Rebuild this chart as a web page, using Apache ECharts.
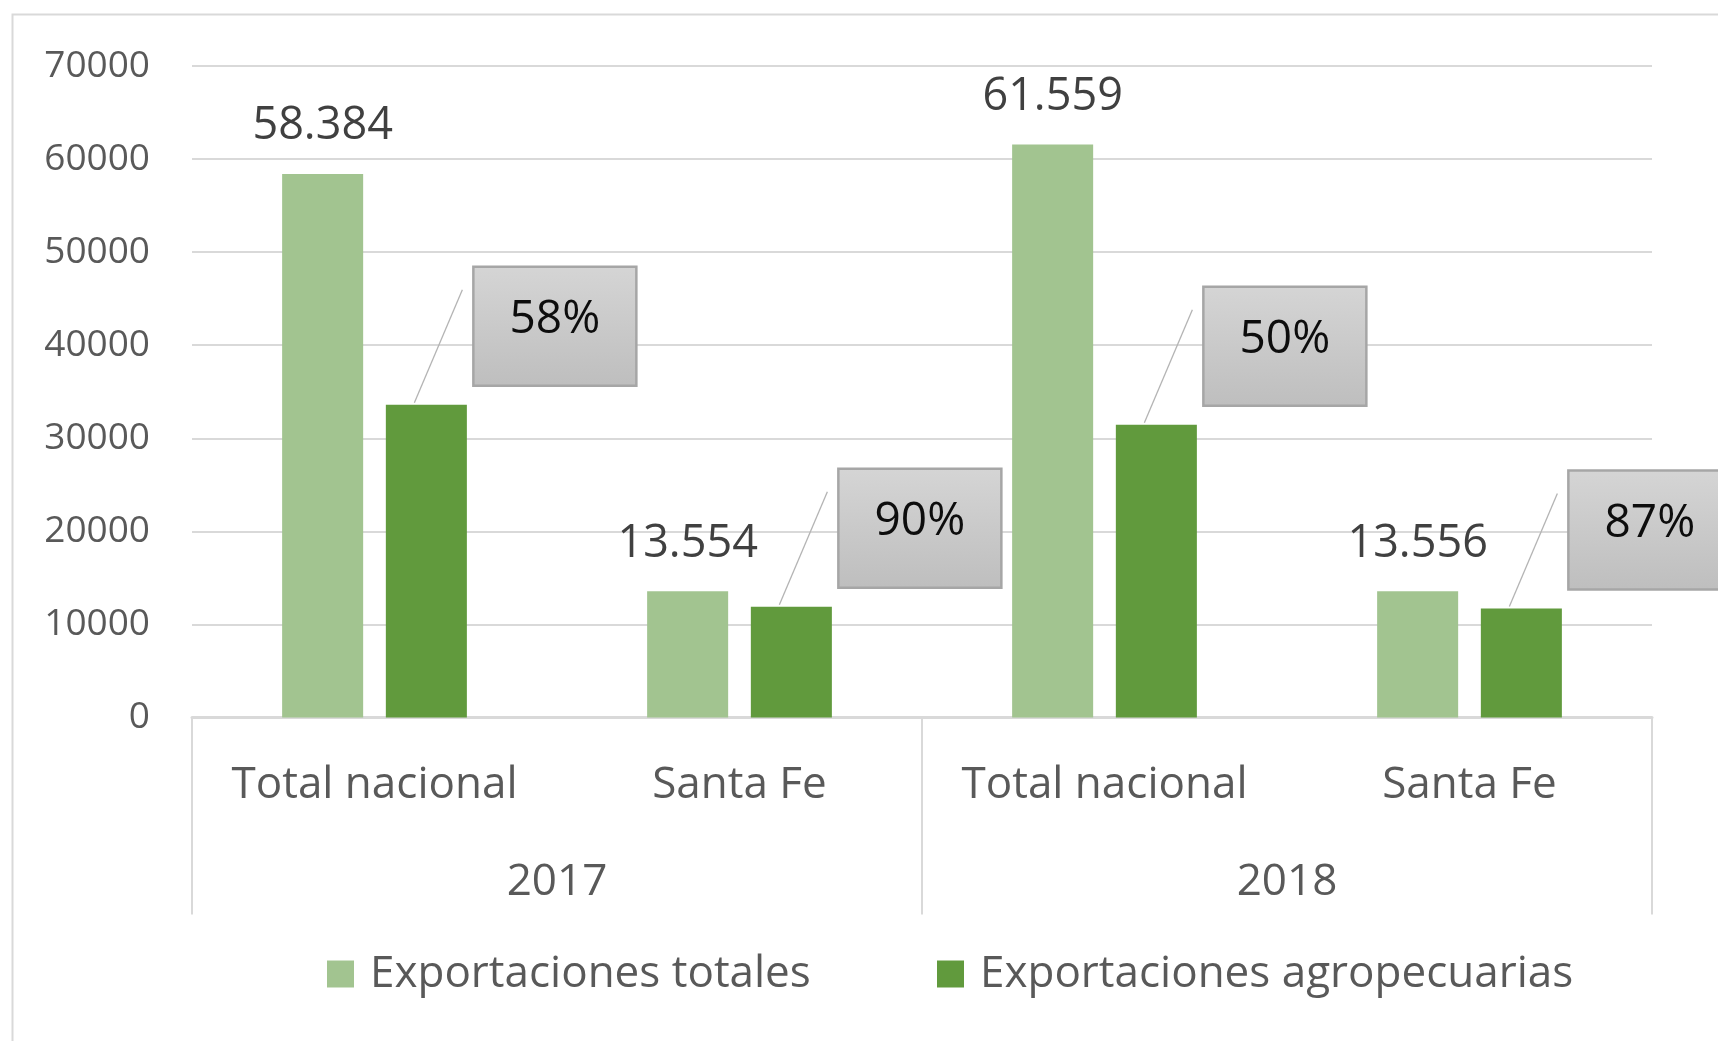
<!DOCTYPE html>
<html>
<head>
<meta charset="utf-8">
<script src="https://cdn.jsdelivr.net/npm/echarts@6/dist/echarts.min.js"></script>
<style>
html,body{margin:0;padding:0;background:#fff;}
#chart{width:1718px;height:1041px;}
</style>
</head>
<body>
<div id="chart"></div>
<script>
// ---- data ----
const categories = ['Total nacional', 'Santa Fe', 'Total nacional', 'Santa Fe'];
const years = ['2017', '2018'];
const seriesNames = ['Exportaciones totales', 'Exportaciones agropecuarias'];
const totalExports = [58384, 13554, 61559, 13556];
const agroExports = [33600, 11900, 31450, 11700];
const agroShareLabels = ['58%', '90%', '50%', '87%'];

// ---- style ----
const FONT = 'Open Sans';
const LIGHT = '#A2C490';
const DARK = '#619A3D';
const BAR_W = 0.222;
const BAR_GAP = 0.28;

function fmtThousands(v) {
  return String(v).replace(/\B(?=(\d{3})+(?!\d))/g, '.');
}

const chart = echarts.init(document.getElementById('chart'), null, {renderer: 'canvas'});

const calloutData = agroExports.map((v, i) => [i, v, agroShareLabels[i]]);

const legendText = {fontFamily: FONT, fontSize: 44, color: '#595959', padding: [0, 0, 0, 11]};

const option = {
  backgroundColor: '#fff',
  animation: false,
  textStyle: {fontFamily: FONT},
  graphic: [{
    type: 'rect', left: 10, top: 12, z: -10,
    shape: {width: 1800, height: 1100},
    style: {fill: 'none', stroke: '#D9D9D9', lineWidth: 2}
  }],
  grid: {left: 192, right: 66, top: 66, bottom: 323.5, containLabel: false},
  legend: [
    {data: [seriesNames[0]], left: 327, top: 952, padding: 0, itemWidth: 27, itemHeight: 27, icon: 'rect',
     selectedMode: false, textStyle: legendText},
    {data: [seriesNames[1]], left: 937, top: 952, padding: 0, itemWidth: 27, itemHeight: 27, icon: 'rect',
     selectedMode: false, textStyle: legendText}
  ],
  xAxis: [
    {
      type: 'category', data: categories, position: 'bottom', gridIndex: 0,
      axisLine: {show: true, lineStyle: {color: '#D9D9D9', width: 3}},
      axisTick: {show: false},
      axisLabel: {fontFamily: FONT, fontSize: 44, color: '#595959', margin: 46, interval: 0},
      splitLine: {show: false}
    },
    {
      type: 'category', data: years, position: 'bottom', gridIndex: 0,
      axisLine: {show: false},
      axisTick: {show: true, length: 197, interval: 0, lineStyle: {color: '#D9D9D9', width: 2}},
      axisLabel: {fontFamily: FONT, fontSize: 44, color: '#595959', margin: 143, interval: 0},
      splitLine: {show: false}
    }
  ],
  yAxis: {
    type: 'value', min: 0, max: 70000, interval: 10000,
    axisLine: {show: false}, axisTick: {show: false},
    axisLabel: {fontFamily: FONT, fontSize: 37, color: '#595959', margin: 42, formatter: v => String(v)},
    splitLine: {show: true, lineStyle: {color: '#D9D9D9', width: 2}}
  },
  series: [
    {
      name: seriesNames[0], type: 'bar', xAxisIndex: 0, data: totalExports,
      barWidth: (BAR_W * 100) + '%', barGap: (BAR_GAP * 100) + '%',
      itemStyle: {color: LIGHT},
      label: {show: true, position: 'top', distance: 25, fontFamily: FONT, fontSize: 45, color: '#404040',
              formatter: p => fmtThousands(p.value)}
    },
    {
      name: seriesNames[1], type: 'bar', xAxisIndex: 0, data: agroExports,
      barWidth: (BAR_W * 100) + '%', barGap: (BAR_GAP * 100) + '%',
      itemStyle: {color: DARK}
    },
    {
      name: 'callouts', type: 'custom', xAxisIndex: 0, yAxisIndex: 0, z: 5, clip: false,
      data: calloutData,
      encode: {x: 0, y: 1},
      renderItem: function (params, api) {
        const pt = api.coord([api.value(0), api.value(1)]);
        const band = api.size([1, 0])[0];
        const bw = band * BAR_W;
        const gap = bw * BAR_GAP;
        const cx = pt[0] + (bw + gap) / 2;
        const ty = pt[1];
        const bx = cx + 47, by = ty - 138, bwid = 163, bh = 119;
        const txt = calloutData[params.dataIndex][2];
        return {
          type: 'group',
          children: [
            {type: 'line', shape: {x1: cx - 12, y1: ty - 2, x2: cx + 36, y2: ty - 115},
             style: {stroke: '#B4B4B4', lineWidth: 1.3}},
            {type: 'rect', shape: {x: bx, y: by, width: bwid, height: bh},
             style: {
               fill: new echarts.graphic.LinearGradient(0, 0, 0, 1, [
                 {offset: 0, color: '#D5D5D5'}, {offset: 1, color: '#BEBEBE'}]),
               stroke: '#A6A6A6', lineWidth: 2.5
             }},
            {type: 'text', x: bx + bwid / 2, y: by + bh / 2 - 6,
             style: {text: txt, fontFamily: FONT, fontSize: 46, fill: '#0D0D0D',
                     align: 'center', verticalAlign: 'middle'}}
          ]
        };
      }
    }
  ]
};
chart.setOption(option);
</script>
</body>
</html>
